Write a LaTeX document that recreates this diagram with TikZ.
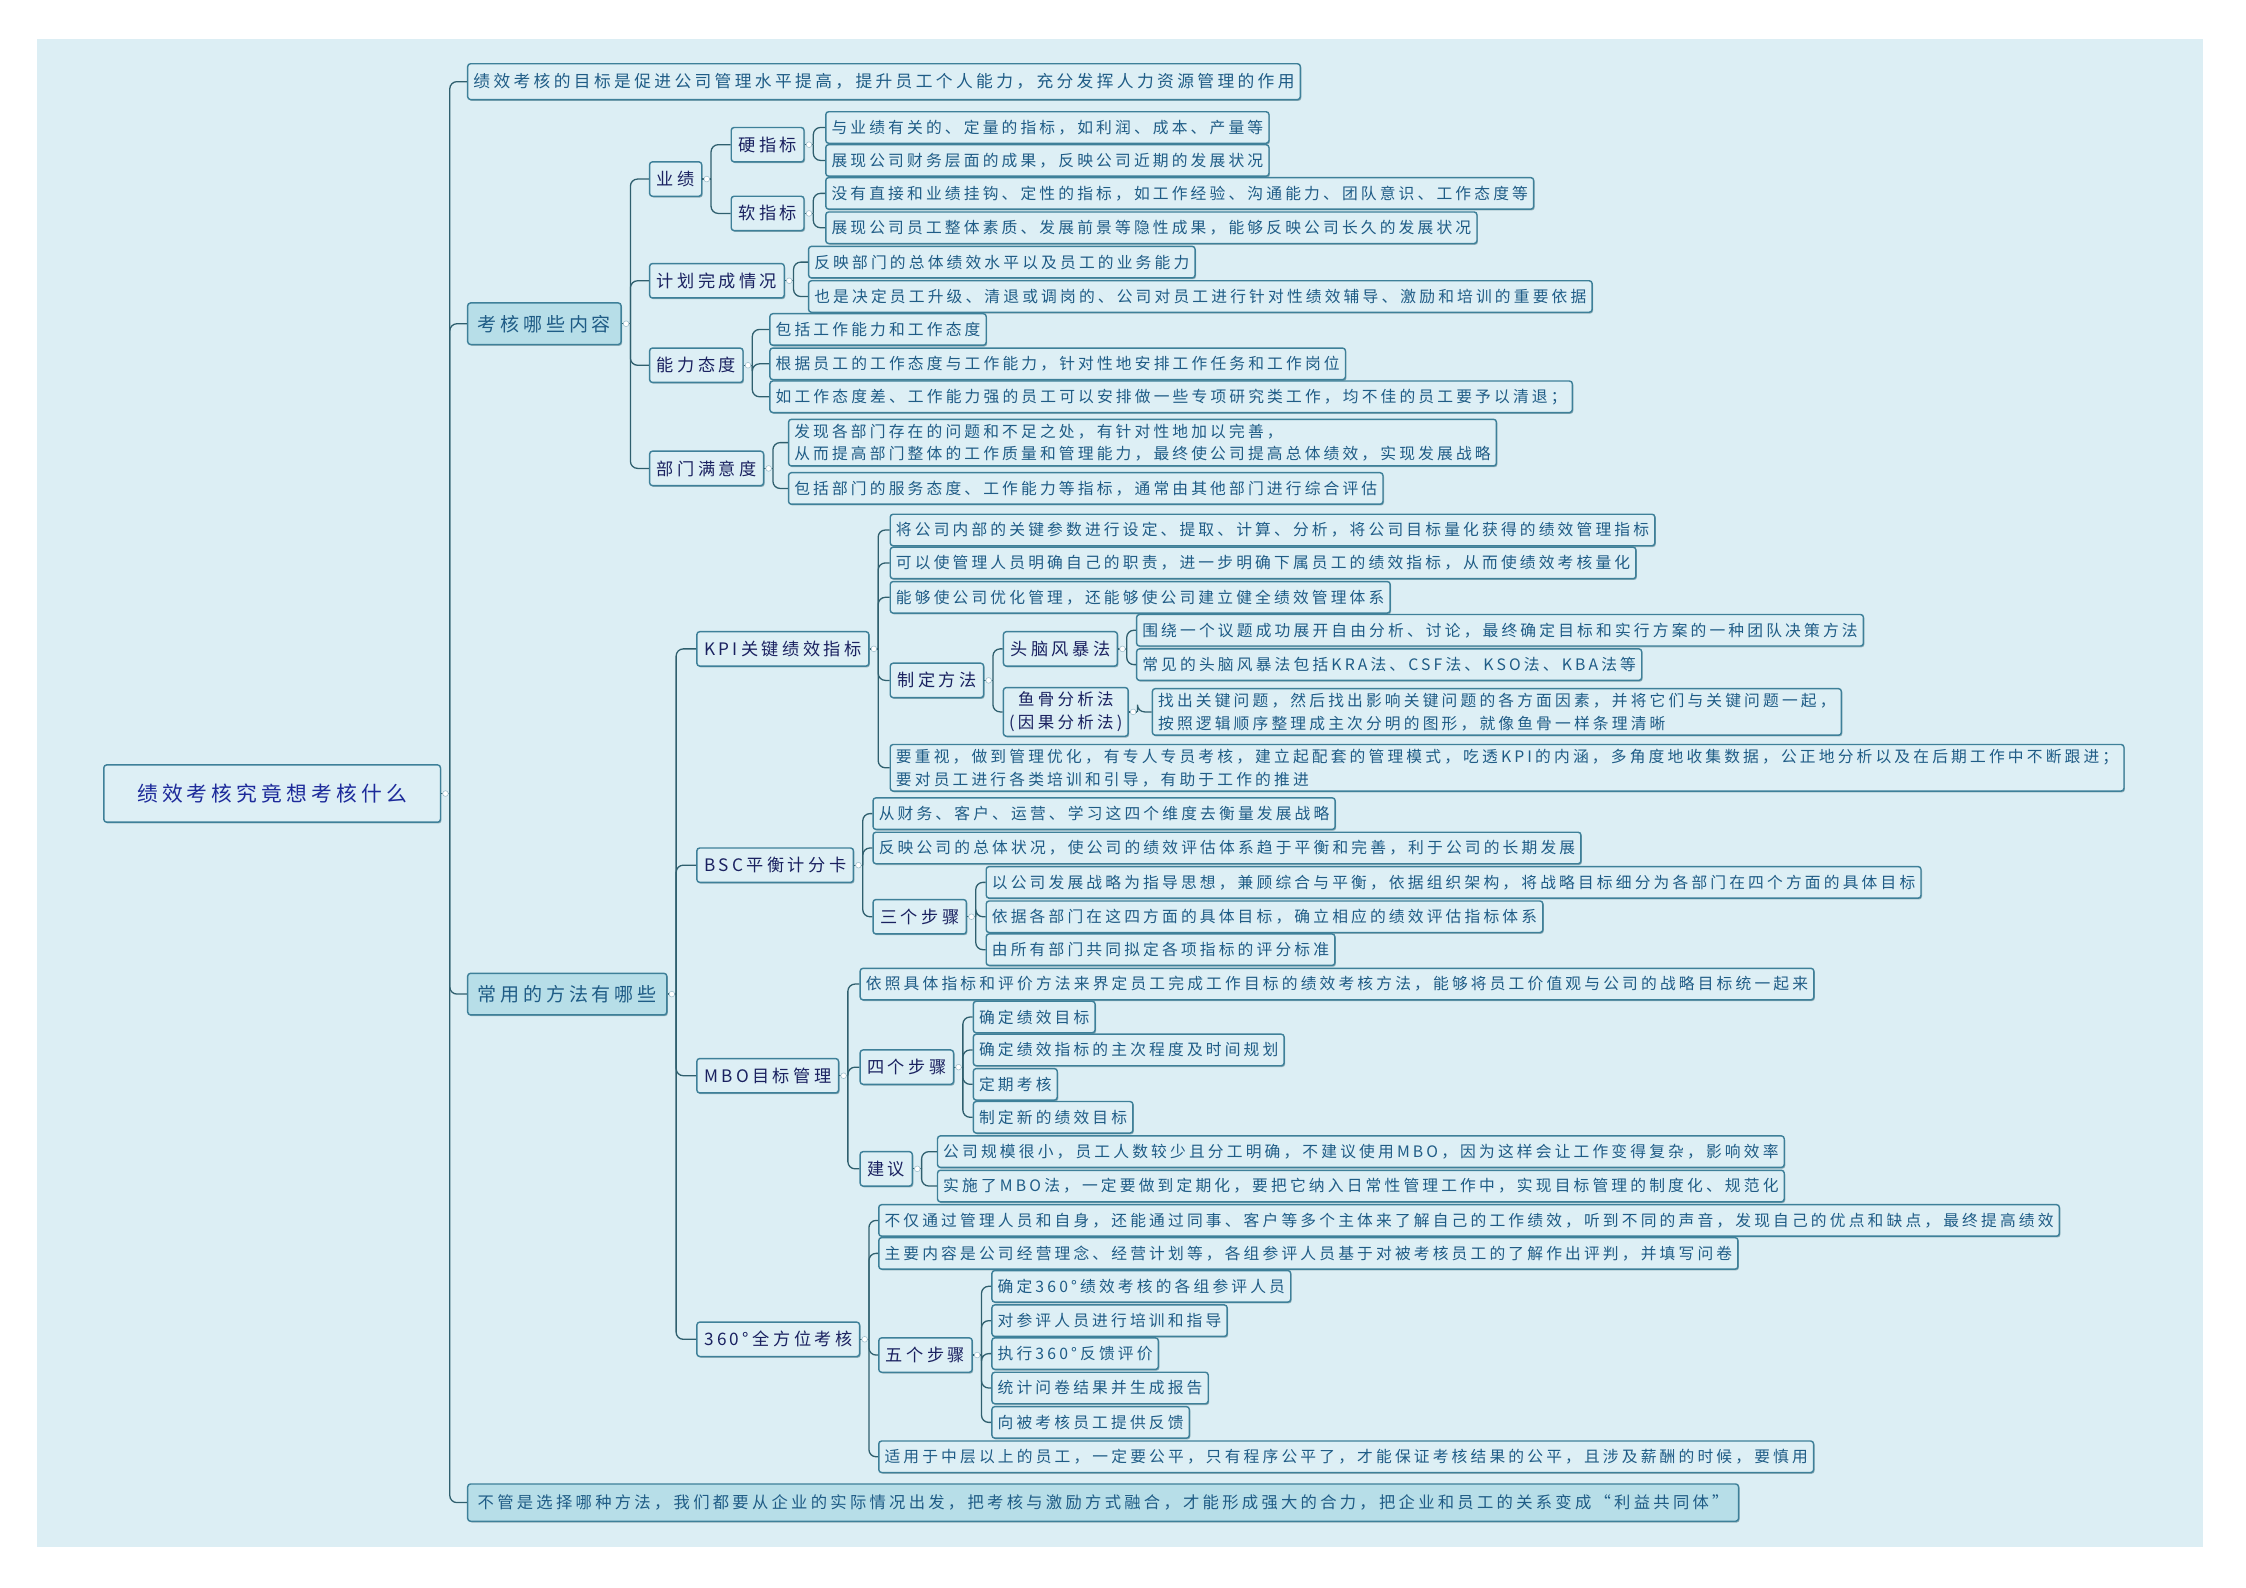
\documentclass[tikz,border=0pt]{standalone}
\usepackage{fontspec}
\usepackage{tikz}
\usetikzlibrary{shadows}
\newfontfamily\cjk[LetterSpace=20]{Noto Sans CJK SC}
\definecolor{cBg}     {HTML}{DCEEF4}
\definecolor{cLeaf}   {HTML}{DDEFF5}
\definecolor{cMain}   {HTML}{B7DEE8}
\definecolor{cEdge}   {HTML}{3E8099}
\definecolor{cLine}   {HTML}{2F5F6E}
\definecolor{cLeafTxt}{HTML}{1F5C86}
\definecolor{cNavy}   {HTML}{1A2160}
\definecolor{cRootTxt}{HTML}{1C2A9A}
\tikzset{
  box/.style  ={draw=cEdge,line width=1pt,fill=cLeaf,rounded corners=2pt,anchor=west,
                inner xsep=4pt,inner ysep=3pt,minimum height=22pt,align=left,
                text=cLeafTxt,font=\cjk\fontsize{11}{16}\selectfont,
                drop shadow={shadow xshift=.7pt,shadow yshift=-.9pt,opacity=.45,fill=cLine}},
  leaf/.style ={box},
  topic/.style={box,text=cNavy,inner xsep=5pt,minimum height=24pt,
                font=\cjk\fontsize{12}{16}\selectfont},
  main/.style ={box,fill=cMain,text=cLeafTxt,inner xsep=7pt,minimum height=29pt,
                font=\cjk\fontsize{13.3}{16}\selectfont},
  root/.style ={box,fill=cLeaf,text=cRootTxt,minimum width=235pt,minimum height=40pt,
                align=center,font=\cjk\fontsize{14.5}{18}\selectfont},
  link/.style ={draw=cLine,line width=.9pt,rounded corners=5pt},
  knob/.style ={draw=cEdge!50,fill=white,line width=.4pt},
}
% parent -> children, elbow connectors through a spine 6pt right of the parent
\newcommand\branch[2]{%
  \draw[link] (#1.east) -- ++(6,0);
  \foreach \kid in {#2}{\draw[link] (#1.east) ++(6,0) |- (\kid.west);}
  \draw[knob] (#1.east) ++(3,0) circle[radius=2pt];
}

\begin{document}
\begin{tikzpicture}[x=1pt,y=1pt]
\useasboundingbox (0,0) rectangle (1568,-1108);
\fill[cBg] (26,-27) rectangle (1538,-1080);

% ===== root and first level ==============================================
\node[root] (perf) at (72,-554) {绩效考核究竟想考核什么};
\node[leaf,minimum height=25pt,font=\cjk\fontsize{11.7}{16}\selectfont] (goal) at (326,-57)
  {绩效考核的目标是促进公司管理水平提高，提升员工个人能力，充分发挥人力资源管理的作用};
\node[main] (what) at (326,-226) {考核哪些内容};
\node[main] (how)  at (326,-694) {常用的方法有哪些};
\node[main,font=\cjk\fontsize{11.4}{16}\selectfont,minimum height=26pt] (tail) at (326,-1049)
  {不管是选择哪种方法，我们都要从企业的实际情况出发，把考核与激励方式融合，才能形成强大的合力，把企业和员工的关系变成“利益共同体”};

% ===== what is assessed ==================================================
\node[topic] (yj) at (453,-125) {业绩};
\node[topic] (jh) at (453,-196) {计划完成情况};
\node[topic] (nl) at (453,-255) {能力态度};
\node[topic] (bm) at (453,-327) {部门满意度};

\node[topic] (ying) at (510,-101) {硬指标};
\node[topic] (ruan) at (510,-149) {软指标};
\node[leaf] (ying1) at (576,-89)  {与业绩有关的、定量的指标，如利润、成本、产量等};
\node[leaf] (ying2) at (576,-112) {展现公司财务层面的成果，反映公司近期的发展状况};
\node[leaf] (ruan1) at (576,-135) {没有直接和业绩挂钩、定性的指标，如工作经验、沟通能力、团队意识、工作态度等};
\node[leaf] (ruan2) at (576,-159) {展现公司员工整体素质、发展前景等隐性成果，能够反映公司长久的发展状况};

\node[leaf] (jh1) at (564,-183) {反映部门的总体绩效水平以及员工的业务能力};
\node[leaf] (jh2) at (564,-207) {也是决定员工升级、清退或调岗的、公司对员工进行针对性绩效辅导、激励和培训的重要依据};

\node[leaf] (nl1) at (537,-230) {包括工作能力和工作态度};
\node[leaf] (nl2) at (537,-254) {根据员工的工作态度与工作能力，针对性地安排工作任务和工作岗位};
\node[leaf] (nl3) at (537,-277) {如工作态度差、工作能力强的员工可以安排做一些专项研究类工作，均不佳的员工要予以清退；};

\node[leaf] (bm1) at (550,-309)
  {发现各部门存在的问题和不足之处，有针对性地加以完善，\\
   从而提高部门整体的工作质量和管理能力，最终使公司提高总体绩效，实现发展战略};
\node[leaf] (bm2) at (550,-341) {包括部门的服务态度、工作能力等指标，通常由其他部门进行综合评估};

% ===== common methods ====================================================
\node[topic] (kpi) at (486,-453) {KPI关键绩效指标};
\node[topic] (bsc) at (486,-604) {BSC平衡计分卡};
\node[topic] (mbo) at (486,-751) {MBO目标管理};
\node[topic] (deg) at (486,-935) {360°全方位考核};

% KPI
\node[leaf] (kpi1) at (621,-370) {将公司内部的关键参数进行设定、提取、计算、分析，将公司目标量化获得的绩效管理指标};
\node[leaf] (kpi2) at (621,-393) {可以使管理人员明确自己的职责，进一步明确下属员工的绩效指标，从而使绩效考核量化};
\node[leaf] (kpi3) at (621,-417) {能够使公司优化管理，还能够使公司建立健全绩效管理体系};
\node[topic] (zd)  at (621,-475) {制定方法};
\node[leaf] (kpi5) at (621,-536)
  {要重视，做到管理优化，有专人专员考核，建立起配套的管理模式，吃透KPI的内涵，多角度地收集数据，公正地分析以及在后期工作中不断跟进；\\
   要对员工进行各类培训和引导，有助于工作的推进};
\node[topic] (tn) at (700,-453) {头脑风暴法};
\node[topic,align=center,inner xsep=4pt,font=\cjk\fontsize{11.5}{16}\selectfont] (yg) at (700,-497)
  {鱼骨分析法\\(因果分析法)};
\node[leaf] (tn1) at (793,-440) {围绕一个议题成功展开自由分析、讨论，最终确定目标和实行方案的一种团队决策方法};
\node[leaf] (tn2) at (793,-464) {常见的头脑风暴法包括KRA法、CSF法、KSO法、KBA法等};
\node[leaf] (yg1) at (804,-497)
  {找出关键问题，然后找出影响关键问题的各方面因素，并将它们与关键问题一起，\\
   按照逻辑顺序整理成主次分明的图形，就像鱼骨一样条理清晰};

% BSC
\node[leaf] (bsc1) at (609,-568) {从财务、客户、运营、学习这四个维度去衡量发展战略};
\node[leaf] (bsc2) at (609,-592) {反映公司的总体状况，使公司的绩效评估体系趋于平衡和完善，利于公司的长期发展};
\node[topic] (sg)  at (609,-640) {三个步骤};
\node[leaf] (sg1) at (688,-616) {以公司发展战略为指导思想，兼顾综合与平衡，依据组织架构，将战略目标细分为各部门在四个方面的具体目标};
\node[leaf] (sg2) at (688,-640) {依据各部门在这四方面的具体目标，确立相应的绩效评估指标体系};
\node[leaf] (sg3) at (688,-663) {由所有部门共同拟定各项指标的评分标准};

% MBO
\node[leaf] (mbo1) at (600,-687) {依照具体指标和评价方法来界定员工完成工作目标的绩效考核方法，能够将员工价值观与公司的战略目标统一起来};
\node[topic] (sig) at (600,-745) {四个步骤};
\node[topic] (jy)  at (600,-816) {建议};
\node[leaf] (sig1) at (679,-710) {确定绩效目标};
\node[leaf] (sig2) at (679,-733) {确定绩效指标的主次程度及时间规划};
\node[leaf] (sig3) at (679,-757) {定期考核};
\node[leaf] (sig4) at (679,-780) {制定新的绩效目标};
\node[leaf] (jy1) at (654,-804) {公司规模很小，员工人数较少且分工明确，不建议使用MBO，因为这样会让工作变得复杂，影响效率};
\node[leaf] (jy2) at (654,-828) {实施了MBO法，一定要做到定期化，要把它纳入日常性管理工作中，实现目标管理的制度化、规范化};

% 360
\node[leaf] (deg1) at (613,-852) {不仅通过管理人员和自身，还能通过同事、客户等多个主体来了解自己的工作绩效，听到不同的声音，发现自己的优点和缺点，最终提高绩效};
\node[leaf] (deg2) at (613,-875) {主要内容是公司经营理念、经营计划等，各组参评人员基于对被考核员工的了解作出评判，并填写问卷};
\node[topic] (wg)  at (613,-946) {五个步骤};
\node[leaf] (deg4) at (613,-1017) {适用于中层以上的员工，一定要公平，只有程序公平了，才能保证考核结果的公平，且涉及薪酬的时候，要慎用};
\node[leaf] (wg1) at (692,-898) {确定360°绩效考核的各组参评人员};
\node[leaf] (wg2) at (692,-922) {对参评人员进行培训和指导};
\node[leaf] (wg3) at (692,-945) {执行360°反馈评价};
\node[leaf] (wg4) at (692,-969) {统计问卷结果并生成报告};
\node[leaf] (wg5) at (692,-993) {向被考核员工提供反馈};

% ===== connectors ========================================================
\branch{perf}{goal,what,how,tail}
\branch{what}{yj,jh,nl,bm}
\branch{yj}{ying,ruan}
\branch{ying}{ying1,ying2}
\branch{ruan}{ruan1,ruan2}
\branch{jh}{jh1,jh2}
\branch{nl}{nl1,nl2,nl3}
\branch{bm}{bm1,bm2}
\branch{how}{kpi,bsc,mbo,deg}
\branch{kpi}{kpi1,kpi2,kpi3,zd,kpi5}
\branch{zd}{tn,yg}
\branch{tn}{tn1,tn2}
\branch{yg}{yg1}
\branch{bsc}{bsc1,bsc2,sg}
\branch{sg}{sg1,sg2,sg3}
\branch{mbo}{mbo1,sig,jy}
\branch{sig}{sig1,sig2,sig3,sig4}
\branch{jy}{jy1,jy2}
\branch{deg}{deg1,deg2,wg,deg4}
\branch{wg}{wg1,wg2,wg3,wg4,wg5}
\end{tikzpicture}
\end{document}
